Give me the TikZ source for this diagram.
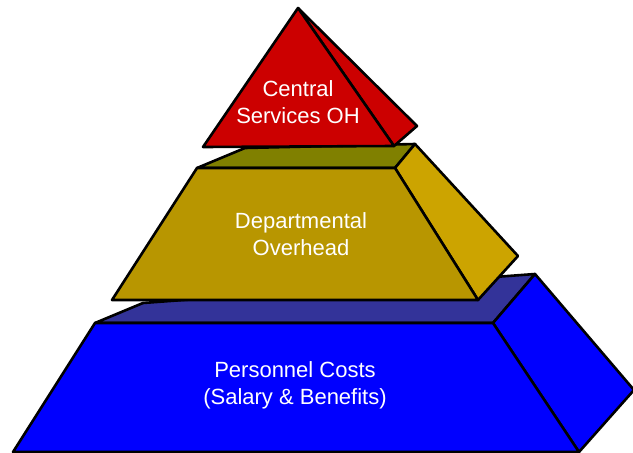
\documentclass[tikz,border=0pt]{standalone}
\usepackage{fontspec}
\setmainfont{Liberation Sans}
\definecolor{csred}{HTML}{CC0000}
\definecolor{dofront}{HTML}{B89600}
\definecolor{dotop}{HTML}{808000}
\definecolor{doside}{HTML}{CCA400}
\definecolor{pcfront}{HTML}{0000FF}
\definecolor{pctop}{HTML}{333399}
\begin{document}
\begin{tikzpicture}[x=1pt,y=-1pt,line width=2.6pt,line join=round,
    tier/.style={draw=black},
    lbl/.style={text=white,align=center,font=\fontsize{22}{27}\selectfont}]
  \useasboundingbox (0,0) rectangle (633,453);
  \clip (0,0) rectangle (633,453);
  % personnel costs
  \coordinate (pfl) at (95,323);
  \coordinate (pfr) at (493,323);
  \coordinate (pbl) at (13,452);
  \coordinate (pbr) at (579,452);
  \coordinate (ptl) at (143,303);
  \coordinate (ptr) at (535,274);
  \coordinate (psr) at (634,390);
  \begin{scope}[tier]
    \filldraw[fill=pctop] (pfl) -- (ptl) -- (ptr) -- (pfr) -- cycle;
    \filldraw[fill=pcfront] (pfr) -- (ptr) -- (psr) -- (pbr) -- cycle;
    \filldraw[fill=pcfront] (pfl) -- (pfr) -- (pbr) -- (pbl) -- cycle;
  \end{scope}
  \node[lbl] (pc) at (295,385) {Personnel Costs\\(Salary \& Benefits)};
  % departmental overhead
  \coordinate (dfl) at (197,168);
  \coordinate (dfr) at (395,168);
  \coordinate (dbl) at (112,300);
  \coordinate (dbr) at (478,300);
  \coordinate (dtl) at (245,148);
  \coordinate (dtr) at (415,144);
  \coordinate (dsr) at (518,256);
  \begin{scope}[tier]
    \filldraw[fill=dotop] (dfl) -- (dtl) -- (dtr) -- (dfr) -- cycle;
    \filldraw[fill=doside] (dfr) -- (dtr) -- (dsr) -- (dbr) -- cycle;
    \filldraw[fill=dofront] (dfl) -- (dfr) -- (dbr) -- (dbl) -- cycle;
  \end{scope}
  \node[lbl] (do) at (301,234) {Departmental\\Overhead};
  % central services
  \coordinate (apex) at (298,8);
  \coordinate (cbl) at (203,147);
  \coordinate (cbr) at (394,146);
  \coordinate (csr) at (417,126);
  \begin{scope}[tier]
    \filldraw[fill=csred] (apex) -- (csr) -- (cbr) -- cycle;
    \filldraw[fill=csred] (apex) -- (cbr) -- (cbl) -- cycle;
  \end{scope}
  \node[lbl] (cs) at (298,102) {Central\\Services OH};
\end{tikzpicture}
\end{document}
